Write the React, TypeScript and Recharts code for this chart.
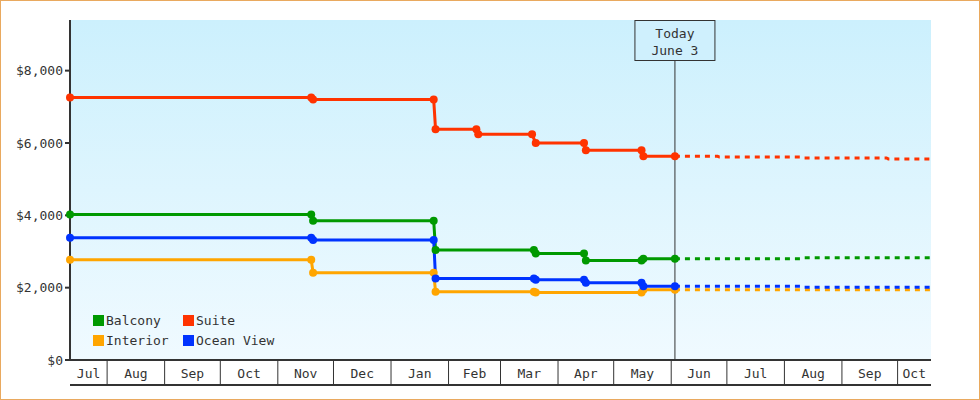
import { LineChart, Line, XAxis, YAxis, CartesianGrid, ReferenceLine, Legend } from "recharts";

const FONT = "'DejaVu Sans Mono', monospace";
const INK = "#333333";

/* ── time range + axis labels ── */
const rangeStart = "2014-07-12";
const rangeEnd = "2015-10-19";
const today = "2015-06-03";
const monthStarts = [
  "2014-08-01", "2014-09-01", "2014-10-01", "2014-11-01", "2014-12-01",
  "2015-01-01", "2015-02-01", "2015-03-01", "2015-04-01", "2015-05-01",
  "2015-06-01", "2015-07-01", "2015-08-01", "2015-09-01", "2015-10-01",
];
const monthLabels = ["Jul", "Aug", "Sep", "Oct", "Nov", "Dec", "Jan", "Feb", "Mar", "Apr", "May", "Jun", "Jul", "Aug", "Sep", "Oct"];
const yTicks = [0, 2000, 4000, 6000, 8000];
const yMax = 9400;

/* ── fares so far (pairs = old price / new price on a change) ── */
const balconyDates = ["2014-07-12", "2014-11-19", "2014-11-20", "2015-01-24", "2015-01-25", "2015-03-19", "2015-03-20", "2015-04-15", "2015-04-16", "2015-05-16", "2015-05-17", "2015-06-03"];
const balconyPrices = [4020, 4020, 3850, 3850, 3040, 3040, 2945, 2945, 2750, 2750, 2800, 2800];

const suiteDates = ["2014-07-12", "2014-11-19", "2014-11-20", "2015-01-24", "2015-01-25", "2015-02-16", "2015-02-17", "2015-03-18", "2015-03-20", "2015-04-15", "2015-04-16", "2015-05-16", "2015-05-17", "2015-06-03"];
const suitePrices = [7260, 7260, 7200, 7200, 6380, 6380, 6240, 6240, 6000, 6000, 5800, 5800, 5630, 5630];

const interiorDates = ["2014-07-12", "2014-11-19", "2014-11-20", "2015-01-24", "2015-01-25", "2015-03-19", "2015-03-20", "2015-05-16", "2015-05-17", "2015-06-03"];
const interiorPrices = [2770, 2770, 2410, 2410, 1890, 1890, 1865, 1865, 1940, 1940];

const oceanDates = ["2014-07-12", "2014-11-19", "2014-11-20", "2015-01-24", "2015-01-25", "2015-03-19", "2015-03-20", "2015-04-15", "2015-04-16", "2015-05-16", "2015-05-17", "2015-06-03"];
const oceanPrices = [3380, 3380, 3320, 3320, 2250, 2250, 2220, 2220, 2135, 2135, 2040, 2040];

/* ── forecast after today ── */
const balconyFutureDates = ["2015-06-03", "2015-08-10", "2015-08-11", "2015-10-19"];
const balconyFuturePrices = [2800, 2800, 2825, 2825];

const suiteFutureDates = ["2015-06-03", "2015-06-26", "2015-06-27", "2015-08-10", "2015-08-11", "2015-09-25", "2015-09-26", "2015-10-19"];
const suiteFuturePrices = [5630, 5630, 5610, 5610, 5585, 5585, 5560, 5560];

const interiorFutureDates = ["2015-06-03", "2015-10-19"];
const interiorFuturePrices = [1940, 1940];

const oceanFutureDates = ["2015-06-03", "2015-08-10", "2015-08-11", "2015-10-19"];
const oceanFuturePrices = [2040, 2040, 2010, 2010];

const toDay = (s: string) => Date.parse(s) / 86400000;
const pts = (dates: string[], prices: number[]) => dates.map((d, i) => ({ t: toDay(d), price: prices[i] }));

const series = [
  { name: "Balcony", color: "#009900", past: pts(balconyDates, balconyPrices), future: pts(balconyFutureDates, balconyFuturePrices) },
  { name: "Suite", color: "#ff3300", past: pts(suiteDates, suitePrices), future: pts(suiteFutureDates, suiteFuturePrices) },
  { name: "Interior", color: "#ffa500", past: pts(interiorDates, interiorPrices), future: pts(interiorFutureDates, interiorFuturePrices) },
  { name: "Ocean View", color: "#0033ff", past: pts(oceanDates, oceanPrices), future: pts(oceanFutureDates, oceanFuturePrices) },
];

const x0 = toDay(rangeStart);
const x1 = toDay(rangeEnd);
const edges = [x0, ...monthStarts.map(toDay), x1];
const bandLabel = new Map<number, string>();
edges.slice(0, -1).forEach((e, i) => bandLabel.set((e + edges[i + 1]) / 2, monthLabels[i]));
const xTicks = [...edges.slice(1, -1), ...bandLabel.keys()];

function MonthTick(props: any) {
  const { x, y, payload } = props;
  const label = bandLabel.get(payload.value);
  if (label === undefined) {
    return <line x1={x} x2={x} y1={y} y2={y + 25} stroke={INK} strokeWidth={1} />;
  }
  return (
    <text x={x} y={y + 13} textAnchor="middle" dominantBaseline="central" fill={INK} fontSize={13} fontFamily={FONT}>
      {label}
    </text>
  );
}

function TodayTag(props: any) {
  const { x, y } = props.viewBox;
  return (
    <g>
      <rect x={x - 40} y={y + 0.5} width={80} height={40} fill="#cff0fd" stroke={INK} strokeWidth={1} />
      <text x={x} y={y + 13} textAnchor="middle" dominantBaseline="central" fill={INK} fontSize={13} fontFamily={FONT}>Today</text>
      <text x={x} y={y + 30} textAnchor="middle" dominantBaseline="central" fill={INK} fontSize={13} fontFamily={FONT}>June 3</text>
    </g>
  );
}

const legendNames = series.map(s => s.name);

function LegendBox(props: any) {
  const payload = props.payload ?? [];
  const items = legendNames
    .map(n => payload.find((p: any) => p.value === n))
    .filter(Boolean);
  return (
    <div style={{ display: "grid", gridTemplateColumns: "90px 110px" }}>
      {items.map((p: any) => (
        <div key={p.value} style={{ display: "flex", alignItems: "center", height: 20, whiteSpace: "nowrap" }}>
          <span style={{ width: 11, height: 11, flex: "none", background: p.color, marginRight: 2 }} />
          <span style={{ fontFamily: FONT, fontSize: 13, color: INK }}>{p.value}</span>
        </div>
      ))}
    </div>
  );
}

export default function App() {
  return (
    <div style={{ position: "absolute", left: 0, top: 0, width: 980, height: 400, outline: "1px solid #e9a95f", outlineOffset: -1, background: "#fff" }}>
      <LineChart width={980} height={400} margin={{ top: 20, right: 49, bottom: 0, left: 0 }}>
        <defs>
          <linearGradient id="plotBg" x1="0" y1="0" x2="0" y2="1">
            <stop offset="0%" stopColor="#ccf0fd" />
            <stop offset="100%" stopColor="#f0faff" />
          </linearGradient>
        </defs>
        <CartesianGrid horizontal={false} vertical={false} fill="url(#plotBg)" />
        <XAxis
          dataKey="t" type="number" domain={[x0, x1]} ticks={xTicks} interval={0}
          tick={<MonthTick />} tickLine={false} tickSize={0} tickMargin={0} height={25}
          axisLine={{ stroke: INK, strokeWidth: 2 }}
        />
        <XAxis
          xAxisId="rule" dataKey="t" type="number" domain={[x0, x1]} tick={false} tickLine={false}
          height={15} axisLine={{ stroke: INK, strokeWidth: 2 }}
        />
        <YAxis
          type="number" domain={[0, yMax]} ticks={yTicks} width={70} interval={0}
          tickFormatter={(v: number) => `$${v.toLocaleString("en-US")}`}
          tick={{ fill: INK, fontSize: 13, fontFamily: FONT }} tickSize={5}
          tickLine={{ stroke: INK, strokeWidth: 2 }} axisLine={{ stroke: INK, strokeWidth: 2 }}
        />
        <ReferenceLine x={toDay(today)} stroke={INK} strokeWidth={1} label={<TodayTag />} />
        {series.map(s => (
          <Line
            key={s.name + "-future"} data={s.future} dataKey="price" name={s.name + " forecast"}
            stroke={s.color} strokeWidth={3} strokeDasharray="5 5" dot={false} activeDot={false}
            legendType="none" isAnimationActive={false}
          />
        ))}
        {series.map(s => (
          <Line
            key={s.name} data={s.past} dataKey="price" name={s.name} type="linear"
            stroke={s.color} strokeWidth={3} dot={{ r: 4, fill: s.color, stroke: "none" }} activeDot={false}
            legendType="square" isAnimationActive={false}
          />
        ))}
        <Legend
          layout="horizontal" verticalAlign="middle" align="center" content={<LegendBox />}
          wrapperStyle={{ position: "absolute", left: 93, top: 310.5, width: 220, height: 40 }}
        />
      </LineChart>
    </div>
  );
}
